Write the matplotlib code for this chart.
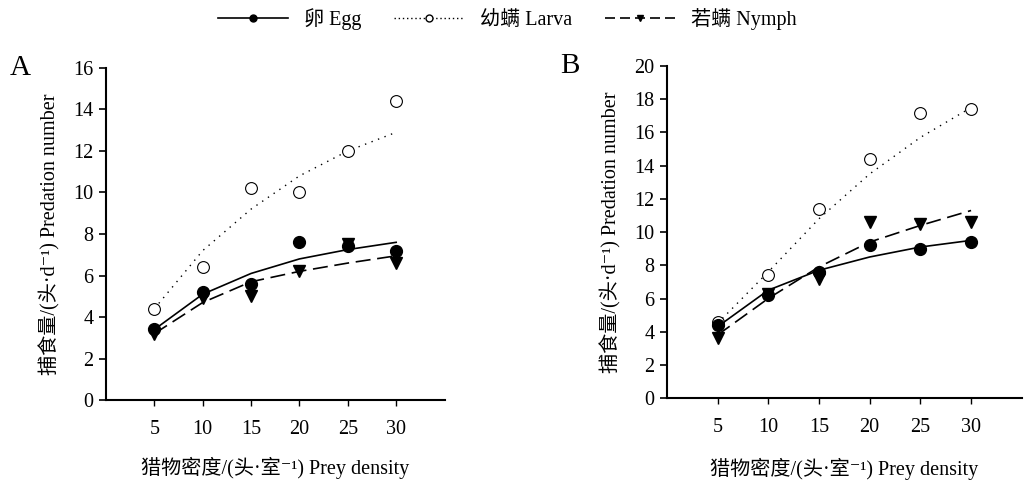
import matplotlib
matplotlib.use('Agg')
import matplotlib.pyplot as plt
from matplotlib.lines import Line2D

plt.rcParams['font.family'] = ['Liberation Serif', 'Noto Sans CJK SC', 'DejaVu Sans']

density = [5, 10, 15, 20, 25, 30]

# panel A: observed values and fitted curve values
a_egg = [3.4, 5.2, 5.6, 7.6, 7.4, 7.2]
a_larva = [4.4, 6.4, 10.2, 10.0, 12.0, 14.4]
a_nymph = [3.2, 4.9, 5.0, 6.2, 7.5, 6.6]
a_egg_fit = [3.4, 5.1, 6.1, 6.8, 7.25, 7.6]
a_larva_fit = [4.4, 7.2, 9.2, 10.8, 12.0, 12.9]
a_nymph_fit = [3.2, 4.7, 5.7, 6.2, 6.6, 6.95]

# panel B
b_egg = [4.4, 6.2, 7.6, 9.2, 9.0, 9.4]
b_larva = [4.6, 7.4, 11.4, 14.4, 17.2, 17.4]
b_nymph = [3.6, 6.3, 7.2, 10.6, 10.5, 10.6]
b_egg_fit = [4.3, 6.5, 7.7, 8.5, 9.1, 9.5]
b_larva_fit = [4.5, 7.6, 10.8, 13.5, 15.7, 17.5]
b_nymph_fit = [3.8, 6.0, 7.9, 9.4, 10.4, 11.3]

ylabel = '捕食量/(头·d⁻¹) Predation number'
xlabel = '猎物密度/(头·室⁻¹) Prey density'

fig = plt.figure(figsize=(10.29, 4.82), dpi=100)
axA = fig.add_axes([0.103, 0.170, 0.329, 0.689])
axB = fig.add_axes([0.648, 0.174, 0.345, 0.689])


def draw(ax, egg, larva, nymph, egg_fit, larva_fit, nymph_fit, ymax, letter, lx, xpad):
    ax.plot(density, larva_fit, color='black', ls=(0, (1, 4)), lw=1.0)
    ax.plot(density, nymph_fit, color='black', ls=(0, (9, 4)), lw=1.2)
    ax.plot(density, egg_fit, color='black', ls='-', lw=1.2)
    ax.plot(density, larva, ls='none', marker='o', ms=8.5, mfc='white',
            mec='black', mew=0.8)
    ax.plot(density, nymph, ls='none', marker='v', ms=8.5, color='black')
    ax.plot(density, egg, ls='none', marker='o', ms=8.5, color='black')
    ax.set_xlim(0, 35)
    ax.set_ylim(0, ymax)
    ax.set_xticks(density)
    ax.set_yticks(range(0, ymax + 1, 2))
    for s in ['top', 'right']:
        ax.spines[s].set_visible(False)
    for s in ['left', 'bottom']:
        ax.spines[s].set_linewidth(1.5)
    ax.tick_params(axis='y', direction='out', length=5, width=1.2, labelsize=14.5, pad=4)
    ax.tick_params(axis='x', direction='out', length=4, width=1.0, labelsize=14.5, pad=10)
    ax.set_ylabel(ylabel, fontsize=14.5, labelpad=9)
    ax.set_xlabel(xlabel, fontsize=14.5, labelpad=xpad)
    ax.text(lx, 1.0, letter, transform=ax.transAxes, fontsize=21,
            va='center', ha='left')


draw(axA, a_egg, a_larva, a_nymph, a_egg_fit, a_larva_fit, a_nymph_fit, 16, 'A', -0.285, 13)
draw(axB, b_egg, b_larva, b_nymph, b_egg_fit, b_larva_fit, b_nymph_fit, 20, 'B', -0.30, 15)

handles = [
    Line2D([], [], color='black', ls='-', lw=1.2, marker='o', ms=5),
    Line2D([], [], color='black', ls=(0, (1, 2)), lw=1.0, marker='o', ms=5,
           mfc='white'),
    Line2D([], [], color='black', ls=(0, (6, 3)), lw=1.2, marker='v', ms=5),
]
labels = ['卵 Egg', '幼螨 Larva', '若螨 Nymph']
fig.legend(handles, labels, loc='upper center', bbox_to_anchor=(0.493, 1.02),
           ncol=3, frameon=False, fontsize=14.5, handlelength=3.5,
           columnspacing=1.6, handletextpad=0.8)

fig.savefig('out.png', dpi=100)
